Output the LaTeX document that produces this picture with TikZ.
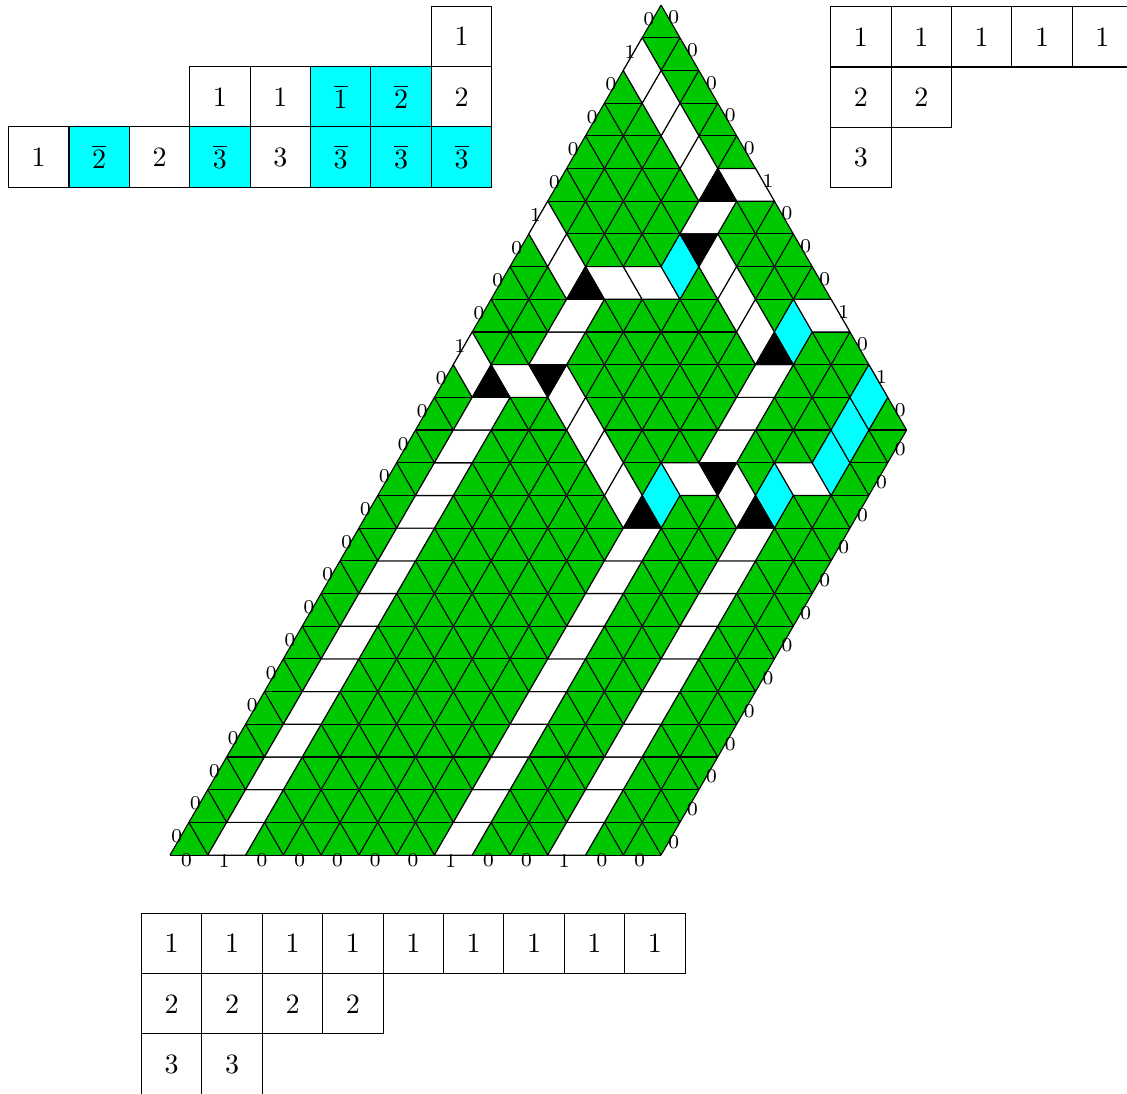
\documentclass[tikz,border=0pt]{standalone}
\usepackage{amsmath,amssymb}
\usetikzlibrary{positioning}
\definecolor{puzzlegreen}{HTML}{00C800}
\definecolor{puzzlecyan}{HTML}{00FFFF}
\tikzset{
    cellbox/.style={rectangle, draw=black, fill=white, minimum size=21.56pt, inner sep=0pt, outer sep=0pt},
    barbox/.style={cellbox, fill=puzzlecyan},
    whitepiece/.style={draw=black, fill=white},
    cyanpiece/.style={draw=black, fill=puzzlecyan},
    blackpiece/.style={draw=black, fill=black},
    edgelab/.style={font=\scriptsize, inner sep=0pt, text=black},
    leftlab/.style={edgelab, xshift=-1pt, yshift=.9pt},
    uplab/.style={edgelab, xshift=1.1pt, yshift=1.4pt},
    lowlab/.style={edgelab, xshift=1.1pt, yshift=-1.1pt},
    botlab/.style={edgelab, xshift=-.9pt, yshift=-2pt}
}
\begin{document}
\begin{tikzpicture}[x=6.7425pt, y=11.671pt, node distance=0pt]
    \useasboundingbox (-9.002,-7.28) rectangle (50.67,26.155);

    % lattice
    \fill[puzzlegreen] (0,0) -- (26,0) -- (39,13) -- (26,26) -- cycle;
    \foreach \k in {0,...,13} \draw (\k,\k) -- (\k+26,\k);
    \foreach \k in {14,...,26} \draw (\k,\k) -- (52-\k,\k);
    \foreach \k in {0,...,13} \draw (2*\k,0) -- (26+\k,26-\k);
    \foreach \k in {1,...,13} \draw (\k,\k) -- (2*\k,0);
    \foreach \k in {14,...,26} \draw (\k,\k) -- (\k+13,\k-13);

    % rhombi leaning right
    \foreach \k in {0,...,13} \draw[whitepiece] (\k+2,\k) -- ++(2,0) -- ++(1,1) -- ++(-2,0) -- cycle;
    \foreach \k in {0,...,9} \draw[whitepiece] (\k+14,\k) -- ++(2,0) -- ++(1,1) -- ++(-2,0) -- cycle;
    \foreach \k in {0,...,9} \draw[whitepiece] (\k+20,\k) -- ++(2,0) -- ++(1,1) -- ++(-2,0) -- cycle;
    \foreach \x/\y in {19/15,20/16,27/19,28/12,29/13,30/14}
        \draw[whitepiece] (\x,\y) -- ++(2,0) -- ++(1,1) -- ++(-2,0) -- cycle;
    % rhombi leaning left
    \foreach \x/\y in {18/14,23/17,25/17,30/20,34/16,27/11,33/11}
        \draw[whitepiece] (\x,\y) -- ++(2,0) -- ++(-1,1) -- ++(-2,0) -- cycle;
    % upright rhombi
    \foreach \x/\y in {16/14,20/18,21/17,28/20,27/21,26/22,25/23,29/17,30/16,31/15,24/10,23/11,22/12,21/13,30/10}
        \draw[whitepiece] (\x,\y) -- ++(1,1) -- ++(-1,1) -- ++(-1,-1) -- cycle;
    \foreach \x/\y in {27/17,33/15,26/10,32/10,35/11,36/12,37/13}
        \draw[cyanpiece] (\x,\y) -- ++(1,1) -- ++(-1,1) -- ++(-1,-1) -- cycle;
    % black triangles
    \foreach \x/\y in {16/14,21/17,28/20,31/15,24/10,30/10}
        \draw[blackpiece] (\x,\y) -- ++(2,0) -- ++(-1,1) -- cycle;
    \foreach \x/\y in {19/15,27/19,28/12}
        \draw[blackpiece] (\x,\y) -- ++(2,0) -- ++(-1,-1) -- cycle;

    % middle line
    \foreach \a/\b in {13/15,17/21,23/29,31/35,37/39} \draw[thick] (\a,13) -- (\b,13);

    % border labels
    \foreach \lab [count=\k from 0] in {0,0,0,0,0,0,0,0,0,0,0,0,0,0,0,1,0,0,0,1,0,0,0,0,1,0}
        \node[leftlab] (lft\k) at (\k+.5,\k+.5) {\lab};
    \foreach \lab [count=\k from 0] in {0,0,0,0,0,1,0,0,0,1,0,1,0}
        \node[uplab] (upr\k) at (26.5+\k,25.5-\k) {\lab};
    \foreach \lab [count=\k from 0] in {0,0,0,0,0,0,0,0,0,0,0,0,0}
        \node[lowlab] (low\k) at (26.5+\k,.5+\k) {\lab};
    \foreach \lab [count=\k from 0] in {0,1,0,0,0,0,0,1,0,0,1,0,0}
        \node[botlab] (bot\k) at (2*\k+1,0) {\lab};

    % tableau top left
    \node[cellbox] (a1) at (-6.95,21.35) {1};
    \node[barbox, right=of a1] (a2) {$\overline{2}$};
    \node[cellbox, right=of a2] (a3) {2};
    \node[barbox, right=of a3] (a4) {$\overline{3}$};
    \node[cellbox, right=of a4] (a5) {3};
    \node[barbox, right=of a5] (a6) {$\overline{3}$};
    \node[barbox, right=of a6] (a7) {$\overline{3}$};
    \node[barbox, right=of a7] (a8) {$\overline{3}$};
    \node[cellbox, above=of a4] (b1) {1};
    \node[cellbox, right=of b1] (b2) {1};
    \node[barbox, right=of b2] (b3) {$\overline{1}$};
    \node[barbox, right=of b3] (b4) {$\overline{2}$};
    \node[cellbox, right=of b4] (b5) {2};
    \node[cellbox, above=of b5] (c1) {1};

    % tableau top right
    \node[cellbox] (d1) at (36.58,25.03) {1};
    \node[cellbox, right=of d1] (d2) {1};
    \node[cellbox, right=of d2] (d3) {1};
    \node[cellbox, right=of d3] (d4) {1};
    \node[cellbox, right=of d4] (d5) {1};
    \node[cellbox, below=of d1] (e1) {2};
    \node[cellbox, right=of e1] (e2) {2};
    \node[cellbox, below=of e1] (f1) {3};

    % tableau bottom
    \node[cellbox] (g1) at (0.09,-2.7) {1};
    \foreach \i [remember=\i as \prev (initially 1)] in {2,...,9}
        \node[cellbox, right=of g\prev] (g\i) {1};
    \node[cellbox, below=of g1] (h1) {2};
    \foreach \i [remember=\i as \prev (initially 1)] in {2,...,4}
        \node[cellbox, right=of h\prev] (h\i) {2};
    \node[cellbox, below=of h1] (k1) {3};
    \node[cellbox, right=of k1] (k2) {3};
\end{tikzpicture}
\end{document}
